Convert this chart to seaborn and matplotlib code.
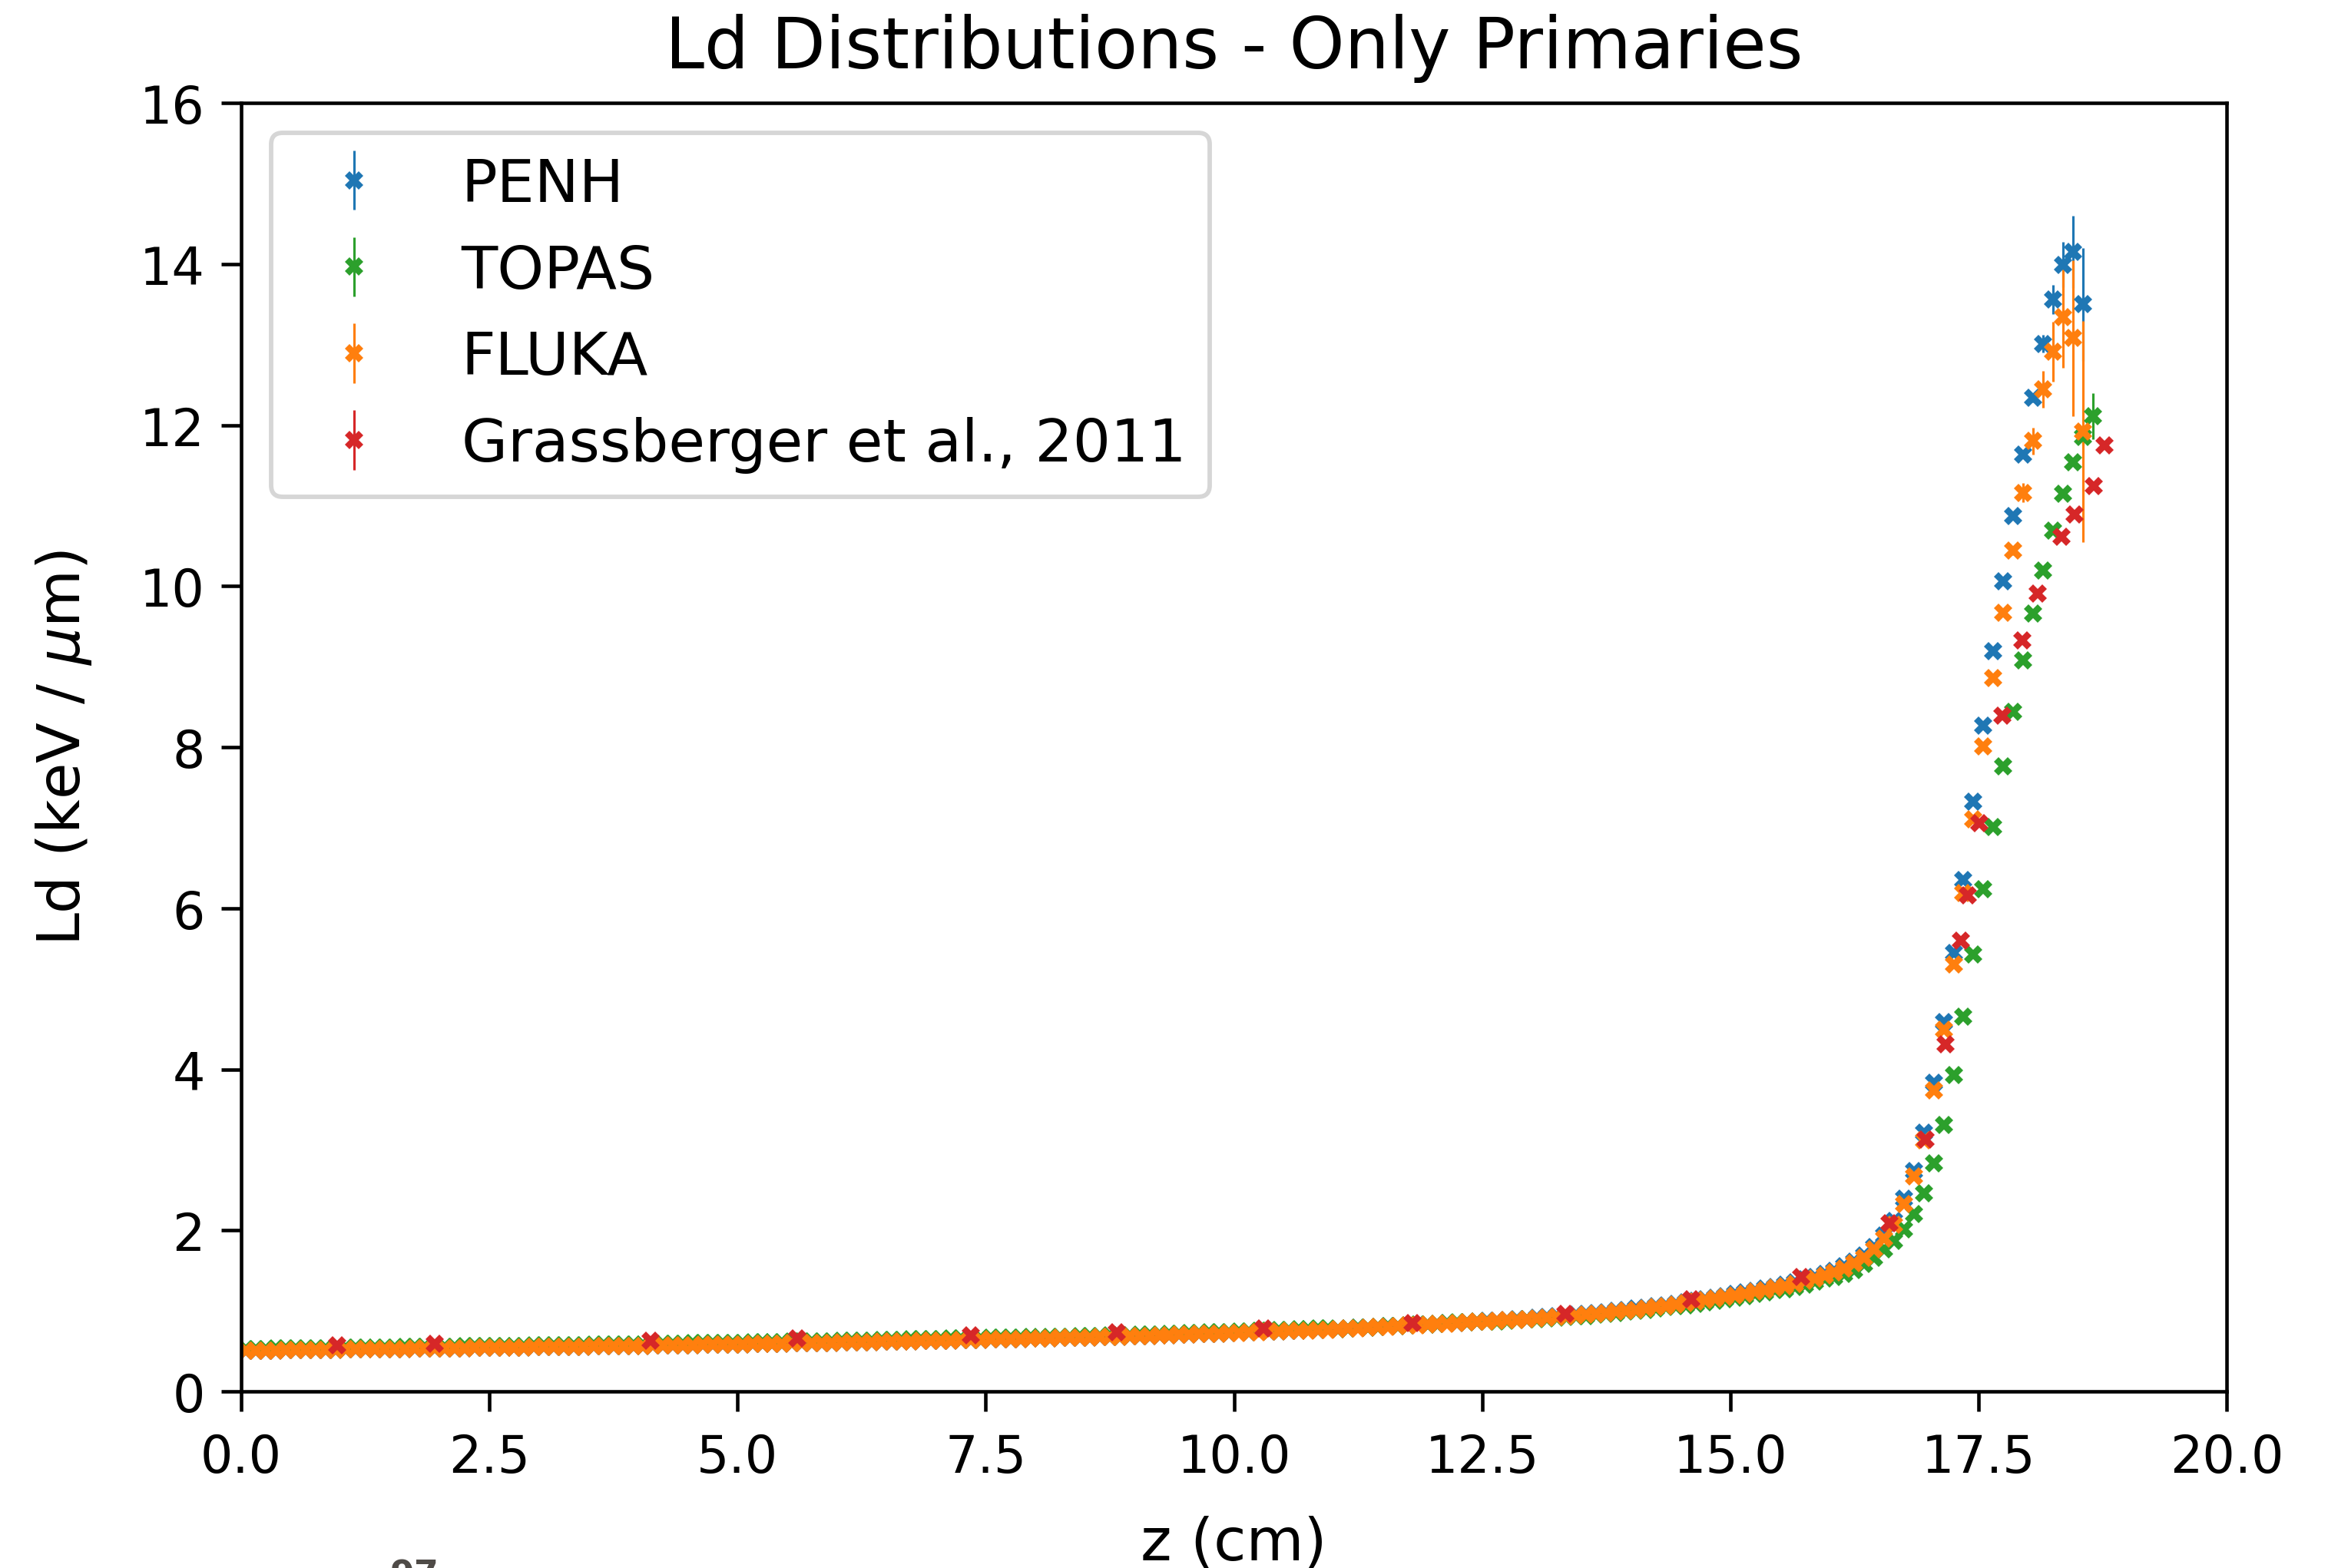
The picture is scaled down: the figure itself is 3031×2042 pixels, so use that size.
import numpy as np
import pandas as pd
import seaborn as sns
import matplotlib
matplotlib.use("Agg")
import matplotlib.pyplot as plt

# ---------------- data ----------------
z_bins = [
    0.05, 0.15, 0.25, 0.35, 0.45, 0.55, 0.65, 0.75, 0.85, 0.95,
    1.05, 1.15, 1.25, 1.35, 1.45, 1.55, 1.65, 1.75, 1.85, 1.95,
    2.05, 2.15, 2.25, 2.35, 2.45, 2.55, 2.65, 2.75, 2.85, 2.95,
    3.05, 3.15, 3.25, 3.35, 3.45, 3.55, 3.65, 3.75, 3.85, 3.95,
    4.05, 4.15, 4.25, 4.35, 4.45, 4.55, 4.65, 4.75, 4.85, 4.95,
    5.05, 5.15, 5.25, 5.35, 5.45, 5.55, 5.65, 5.75, 5.85, 5.95,
    6.05, 6.15, 6.25, 6.35, 6.45, 6.55, 6.65, 6.75, 6.85, 6.95,
    7.05, 7.15, 7.25, 7.35, 7.45, 7.55, 7.65, 7.75, 7.85, 7.95,
    8.05, 8.15, 8.25, 8.35, 8.45, 8.55, 8.65, 8.75, 8.85, 8.95,
    9.05, 9.15, 9.25, 9.35, 9.45, 9.55, 9.65, 9.75, 9.85, 9.95,
    10.05, 10.15, 10.25, 10.35, 10.45, 10.55, 10.65, 10.75, 10.85, 10.95,
    11.05, 11.15, 11.25, 11.35, 11.45, 11.55, 11.65, 11.75, 11.85, 11.95,
    12.05, 12.15, 12.25, 12.35, 12.45, 12.55, 12.65, 12.75, 12.85, 12.95,
    13.05, 13.15, 13.25, 13.35, 13.45, 13.55, 13.65, 13.75, 13.85, 13.95,
    14.05, 14.15, 14.25, 14.35, 14.45, 14.55, 14.65, 14.75, 14.85, 14.95,
    15.05, 15.15, 15.25, 15.35, 15.45, 15.55, 15.65, 15.75, 15.85, 15.95,
    16.05, 16.15, 16.25, 16.35, 16.45, 16.55, 16.65, 16.75, 16.85, 16.95,
    17.05, 17.15, 17.25, 17.35, 17.45, 17.55, 17.65, 17.75, 17.85, 17.95,
    18.05, 18.15, 18.25, 18.35, 18.45, 18.55, 18.65,
]

penh_ld = [
    0.505, 0.507, 0.508, 0.510, 0.511, 0.513, 0.514, 0.516, 0.517, 0.519,
    0.520, 0.522, 0.523, 0.525, 0.526, 0.528, 0.529, 0.531, 0.532, 0.534,
    0.535, 0.537, 0.538, 0.540, 0.541, 0.543, 0.544, 0.546, 0.547, 0.549,
    0.550, 0.552, 0.553, 0.555, 0.556, 0.558, 0.560, 0.561, 0.563, 0.564,
    0.566, 0.568, 0.570, 0.572, 0.574, 0.576, 0.577, 0.579, 0.581, 0.583,
    0.585, 0.587, 0.589, 0.591, 0.593, 0.596, 0.598, 0.600, 0.602, 0.604,
    0.606, 0.609, 0.611, 0.614, 0.616, 0.619, 0.621, 0.624, 0.626, 0.629,
    0.631, 0.634, 0.636, 0.639, 0.641, 0.644, 0.647, 0.649, 0.652, 0.654,
    0.657, 0.660, 0.663, 0.666, 0.669, 0.672, 0.675, 0.678, 0.681, 0.684,
    0.687, 0.691, 0.695, 0.699, 0.703, 0.707, 0.711, 0.715, 0.719, 0.723,
    0.730, 0.734, 0.739, 0.743, 0.748, 0.752, 0.757, 0.761, 0.766, 0.770,
    0.775, 0.781, 0.788, 0.794, 0.800, 0.807, 0.813, 0.819, 0.825, 0.832,
    0.838, 0.845, 0.852, 0.859, 0.866, 0.873, 0.880, 0.887, 0.894, 0.901,
    0.913, 0.922, 0.931, 0.940, 0.950, 0.960, 0.972, 0.985, 0.997, 1.010,
    1.027, 1.042, 1.057, 1.072, 1.089, 1.107, 1.125, 1.143, 1.162, 1.182,
    1.208, 1.230, 1.253, 1.276, 1.301, 1.328, 1.356, 1.388, 1.421, 1.458,
    1.500, 1.550, 1.615, 1.690, 1.790, 1.940, 2.120, 2.390, 2.740, 3.210,
    3.830, 4.590, 5.440, 6.350, 7.320, 8.270, 9.190, 10.060, 10.870, 11.630,
    12.340, 13.010, 13.560, 13.990, 14.150, 13.500,
]
penh_err = [0.0] * 178 + [0.03, 0.04, 0.06, 0.11, 0.18, 0.28, 0.45, 0.70]

topas_ld = [
    0.525, 0.527, 0.528, 0.530, 0.531, 0.533, 0.534, 0.536, 0.537, 0.539,
    0.540, 0.542, 0.543, 0.545, 0.546, 0.548, 0.549, 0.551, 0.552, 0.554,
    0.555, 0.557, 0.558, 0.560, 0.561, 0.563, 0.564, 0.566, 0.567, 0.569,
    0.570, 0.572, 0.573, 0.575, 0.576, 0.578, 0.580, 0.581, 0.583, 0.584,
    0.586, 0.588, 0.590, 0.592, 0.594, 0.596, 0.597, 0.599, 0.601, 0.603,
    0.605, 0.607, 0.609, 0.611, 0.613, 0.616, 0.618, 0.620, 0.622, 0.624,
    0.626, 0.629, 0.631, 0.634, 0.636, 0.639, 0.641, 0.644, 0.646, 0.649,
    0.651, 0.654, 0.656, 0.659, 0.661, 0.664, 0.667, 0.669, 0.672, 0.674,
    0.672, 0.675, 0.678, 0.681, 0.684, 0.687, 0.690, 0.693, 0.696, 0.699,
    0.702, 0.706, 0.710, 0.714, 0.718, 0.722, 0.726, 0.730, 0.734, 0.738,
    0.742, 0.746, 0.751, 0.755, 0.760, 0.764, 0.769, 0.773, 0.778, 0.782,
    0.777, 0.783, 0.790, 0.796, 0.802, 0.809, 0.815, 0.821, 0.827, 0.834,
    0.840, 0.847, 0.854, 0.861, 0.868, 0.865, 0.872, 0.879, 0.886, 0.893,
    0.900, 0.909, 0.918, 0.927, 0.937, 0.937, 0.949, 0.962, 0.974, 0.987,
    1.000, 1.015, 1.030, 1.045, 1.062, 1.070, 1.088, 1.106, 1.125, 1.145,
    1.165, 1.187, 1.210, 1.233, 1.258, 1.270, 1.298, 1.330, 1.363, 1.400,
    1.420, 1.460, 1.510, 1.580, 1.660, 1.760, 1.870, 2.010, 2.200, 2.460,
    2.830, 3.310, 3.930, 4.650, 5.430, 6.240, 7.010, 7.760, 8.440, 9.080,
    9.660, 10.190, 10.690, 11.150, 11.540, 11.850, 12.110,
]
topas_err = [0.0] * 181 + [0.02, 0.02, 0.03, 0.05, 0.10, 0.29]

fluka_ld = [
    0.505, 0.507, 0.508, 0.510, 0.511, 0.513, 0.514, 0.516, 0.517, 0.519,
    0.520, 0.522, 0.523, 0.525, 0.526, 0.528, 0.529, 0.531, 0.532, 0.534,
    0.535, 0.537, 0.538, 0.540, 0.541, 0.543, 0.544, 0.546, 0.547, 0.549,
    0.550, 0.552, 0.553, 0.555, 0.556, 0.558, 0.560, 0.561, 0.563, 0.564,
    0.566, 0.568, 0.570, 0.572, 0.574, 0.576, 0.577, 0.579, 0.581, 0.583,
    0.585, 0.587, 0.589, 0.591, 0.593, 0.596, 0.598, 0.600, 0.602, 0.604,
    0.606, 0.609, 0.611, 0.614, 0.616, 0.619, 0.621, 0.624, 0.626, 0.629,
    0.631, 0.634, 0.636, 0.639, 0.641, 0.644, 0.647, 0.649, 0.652, 0.654,
    0.657, 0.660, 0.663, 0.666, 0.669, 0.672, 0.675, 0.678, 0.681, 0.684,
    0.687, 0.691, 0.695, 0.699, 0.703, 0.707, 0.711, 0.715, 0.719, 0.723,
    0.727, 0.731, 0.736, 0.740, 0.745, 0.749, 0.754, 0.758, 0.763, 0.767,
    0.772, 0.778, 0.785, 0.791, 0.797, 0.804, 0.810, 0.816, 0.822, 0.829,
    0.835, 0.842, 0.849, 0.856, 0.863, 0.870, 0.877, 0.884, 0.891, 0.898,
    0.905, 0.914, 0.923, 0.932, 0.942, 0.952, 0.964, 0.977, 0.989, 1.002,
    1.015, 1.030, 1.045, 1.060, 1.077, 1.095, 1.113, 1.131, 1.150, 1.170,
    1.190, 1.212, 1.235, 1.258, 1.283, 1.310, 1.338, 1.370, 1.403, 1.440,
    1.480, 1.525, 1.590, 1.660, 1.760, 1.900, 2.070, 2.330, 2.670, 3.120,
    3.740, 4.490, 5.300, 6.190, 7.100, 8.010, 8.860, 9.670, 10.440, 11.160,
    11.800, 12.440, 12.910, 13.340, 13.080, 11.920,
]
fluka_err = [0.0] * 176 + [0.03, 0.04, 0.06, 0.12, 0.17, 0.23, 0.37, 0.63, 0.97, 1.37]

grass_z = [0.97, 1.95, 4.12, 5.60, 7.35, 8.82, 10.30, 11.80, 13.34, 14.61,
           15.71, 16.60, 16.97, 17.17, 17.32, 17.39, 17.51, 17.74, 17.94,
           18.10, 18.34, 18.47, 18.66, 18.77]
grass_ld = [0.57, 0.59, 0.63, 0.66, 0.70, 0.73, 0.78, 0.85, 0.966, 1.147,
            1.418, 2.09, 3.13, 4.31, 5.60, 6.16, 7.06, 8.39, 9.33,
            9.91, 10.61, 10.89, 11.24, 11.75]
grass_err = [0.0] * 24

labels = ["PENH", "TOPAS", "FLUKA", "Grassberger et al., 2011"]
colors = ["#1f77b4", "#2ca02c", "#ff7f0e", "#d62728"]

x_ticks = [0.0, 2.5, 5.0, 7.5, 10.0, 12.5, 15.0, 17.5, 20.0]
y_ticks = [0, 2, 4, 6, 8, 10, 12, 14, 16]

# ---------------- style ----------------
sns.set_theme(style="ticks", rc={
    "axes.edgecolor": "black",
    "axes.linewidth": 1.1,
    "xtick.color": "black",
    "ytick.color": "black",
    "text.color": "black",
    "axes.labelcolor": "black",
    "xtick.major.size": 6.3,
    "ytick.major.size": 6.3,
    "xtick.major.width": 1.1,
    "ytick.major.width": 1.1,
    "xtick.major.pad": 6.5,
    "ytick.major.pad": 5,
})
plt.rcParams["font.family"] = ["DejaVu Sans"]

W, H = 3031, 2043
DPI = 300
fig = plt.figure(figsize=(W / DPI, H / DPI), dpi=DPI)
ax = fig.add_axes([314 / W, 1 - 1813 / H, (2899 - 314) / W, (1813 - 135) / H])

series = [
    (z_bins[:len(penh_ld)], penh_ld, penh_err),
    (z_bins[:len(topas_ld)], topas_ld, topas_err),
    (z_bins[:len(fluka_ld)], fluka_ld, fluka_err),
    (grass_z, grass_ld, grass_err),
]

for (zz, ld, err), lab, col in zip(series, labels, colors):
    ax.errorbar(zz, ld, yerr=err, fmt="X", color=col, ms=5.8, mew=0,
                elinewidth=0.75, capsize=1.8, capthick=0.75, label=lab)

ax.set_xlim(0, 20)
ax.set_ylim(0, 16)
ax.set_xticks(x_ticks)
ax.set_yticks(y_ticks)
ax.tick_params(labelsize=16)
ax.set_xlabel("z (cm)", fontsize=18.5, labelpad=10)
ax.set_ylabel("Ld (keV / $\\mu$m)", fontsize=18.5, labelpad=14.5)
ax.set_title("Ld Distributions - Only Primaries", fontsize=22, pad=11)

leg = ax.legend(loc="upper left", fontsize=18.6, labelspacing=0.5,
                frameon=True, fancybox=True, edgecolor="0.8")
leg.get_frame().set_linewidth(1.4)

fig.text(508 / W, (H - 2030) / H, "97", fontsize=11, color="#4f4b47",
         fontweight="bold", ha="left", va="top")

fig.savefig("out.png", dpi=DPI)
